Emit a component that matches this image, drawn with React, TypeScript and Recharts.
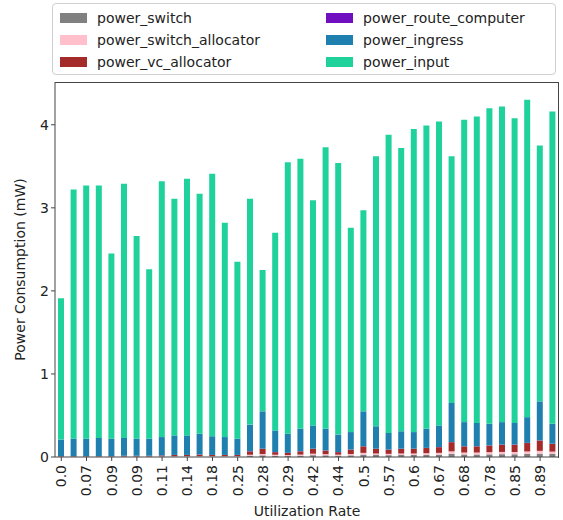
import React from 'react';
import { BarChart, Bar, XAxis, YAxis } from 'recharts';

const tickLabels = ['0.0','0.07','0.09','0.09','0.11','0.14','0.18','0.25','0.28','0.29','0.42','0.44','0.5','0.57','0.6','0.67','0.68','0.78','0.85','0.89'];

const powerSwitch = [0.002,0.003,0.003,0.003,0.003,0.004,0.004,0.004,0.005,0.006,0.006,0.007,0.007,0.007,0.007,0.015,0.02,0.015,0.013,0.016,0.022,0.02,0.016,0.02,0.028,0.024,0.022,0.024,0.024,0.026,0.028,0.038,0.03,0.03,0.032,0.034,0.034,0.037,0.04,0.036];
const powerSwitchAllocator = [0.002,0.002,0.002,0.002,0.002,0.003,0.003,0.003,0.004,0.005,0.005,0.005,0.005,0.005,0.005,0.012,0.016,0.012,0.01,0.013,0.018,0.015,0.012,0.016,0.022,0.018,0.016,0.018,0.018,0.02,0.022,0.03,0.024,0.024,0.026,0.027,0.027,0.03,0.034,0.029];
const powerVcAllocator = [0.005,0.004,0.004,0.004,0.004,0.007,0.007,0.007,0.010,0.013,0.013,0.017,0.012,0.012,0.012,0.041,0.062,0.031,0.025,0.039,0.058,0.043,0.030,0.052,0.078,0.056,0.050,0.056,0.056,0.062,0.068,0.110,0.074,0.074,0.080,0.087,0.087,0.101,0.124,0.093];
const powerRouteComputer = [0.001,0.001,0.001,0.001,0.001,0.001,0.001,0.001,0.001,0.001,0.001,0.001,0.001,0.001,0.001,0.002,0.002,0.002,0.002,0.002,0.002,0.002,0.002,0.002,0.002,0.002,0.002,0.002,0.002,0.002,0.002,0.002,0.002,0.002,0.002,0.002,0.002,0.002,0.002,0.002];
const powerIngress = [0.20,0.21,0.21,0.22,0.21,0.215,0.205,0.205,0.22,0.235,0.235,0.25,0.225,0.215,0.195,0.32,0.45,0.26,0.23,0.27,0.28,0.26,0.21,0.21,0.42,0.27,0.20,0.21,0.20,0.23,0.26,0.47,0.29,0.28,0.26,0.27,0.26,0.31,0.47,0.24];
const powerInput = [1.70,3.00,3.05,3.04,2.23,3.06,2.44,2.04,3.08,2.85,3.09,2.89,3.16,2.58,2.13,2.72,1.70,2.38,3.27,3.25,2.71,3.39,3.27,2.46,2.42,3.25,3.59,3.41,3.65,3.65,3.66,2.97,3.64,3.69,3.80,3.80,3.67,3.82,3.08,3.76];

const series = [
  { key: 'power_switch', values: powerSwitch, color: '#808080' },
  { key: 'power_switch_allocator', values: powerSwitchAllocator, color: '#ffc0cb' },
  { key: 'power_vc_allocator', values: powerVcAllocator, color: '#a52a2a' },
  { key: 'power_route_computer', values: powerRouteComputer, color: '#6f0fbf' },
  { key: 'power_ingress', values: powerIngress, color: '#1f80b0' },
  { key: 'power_input', values: powerInput, color: '#1fd19b' },
];

const data = powerInput.map((_, i) => {
  const row: any = { idx: i };
  series.forEach((s) => { row[s.key] = s.values[i]; });
  return row;
});

const FONT = 'DejaVu Sans, sans-serif';
const AXIS = '#444';

const XTick = (props: any) => {
  const { x, y, payload } = props;
  const i = payload.value as number;
  const label = i % 2 === 0 ? tickLabels[i / 2] : '';
  return (
    <g transform={`translate(${x},${y + 2})`}>
      <text transform="rotate(-90)" textAnchor="end" dy="0.35em" fontSize={14} fill="#222" fontFamily={FONT}>{label}</text>
    </g>
  );
};

const LegendBox = () => {
  const cols = [series.slice(0, 3), series.slice(3, 6)];
  return (
    <div style={{ position: 'absolute', left: 52, top: 3, border: '1px solid #d0d0d0', borderRadius: 4, height: 70, width: 502, background: '#fff', fontFamily: FONT, fontSize: 14, color: '#222' }}>
      {cols.map((col, c) => col.map((s, r) => (
        <div key={s.key} style={{ position: 'absolute', left: c === 0 ? 7 : 273, top: 4 + r * 22, height: 20, display: 'flex', alignItems: 'center', whiteSpace: 'nowrap' }}>
          <span style={{ display: 'inline-block', width: 27, height: 10, background: s.color, marginRight: 10 }} />
          <span>{s.key}</span>
        </div>
      )))}
    </div>
  );
};

export default function App() {
  return (
    <div style={{ position: 'absolute', left: 0, top: 0, width: 563, height: 520, background: '#fff' }}>
      <BarChart width={563} height={520} data={data} margin={{ top: 82, right: 4, bottom: 0, left: 0 }} barSize={6}>
        <XAxis dataKey="idx" type="category" interval={1} tick={<XTick />} tickLine={{ stroke: AXIS }} tickSize={4} axisLine={{ stroke: AXIS }} height={63}
          label={{ value: 'Utilization Rate', position: 'insideBottom', offset: 4, fontSize: 14, fill: '#222', fontFamily: FONT }} />
        <YAxis domain={[0, 4.515]} ticks={[0, 1, 2, 3, 4]} tick={{ fontSize: 14, fill: '#222', fontFamily: FONT }} tickLine={{ stroke: AXIS }} tickSize={4} axisLine={{ stroke: AXIS }} width={55}
          label={{ value: 'Power Consumption (mW)', angle: -90, position: 'insideLeft', offset: 20, fontSize: 14, fill: '#222', fontFamily: FONT, style: { textAnchor: 'middle' } }} />
        {series.map((s) => (
          <Bar key={s.key} dataKey={s.key} stackId="a" fill={s.color} isAnimationActive={false} />
        ))}
      </BarChart>
      <div style={{ position: 'absolute', left: 55, top: 82, width: 503, height: 375, borderTop: `1px solid ${AXIS}`, borderRight: `1px solid ${AXIS}`, pointerEvents: 'none' }} />
      <LegendBox />
    </div>
  );
}
